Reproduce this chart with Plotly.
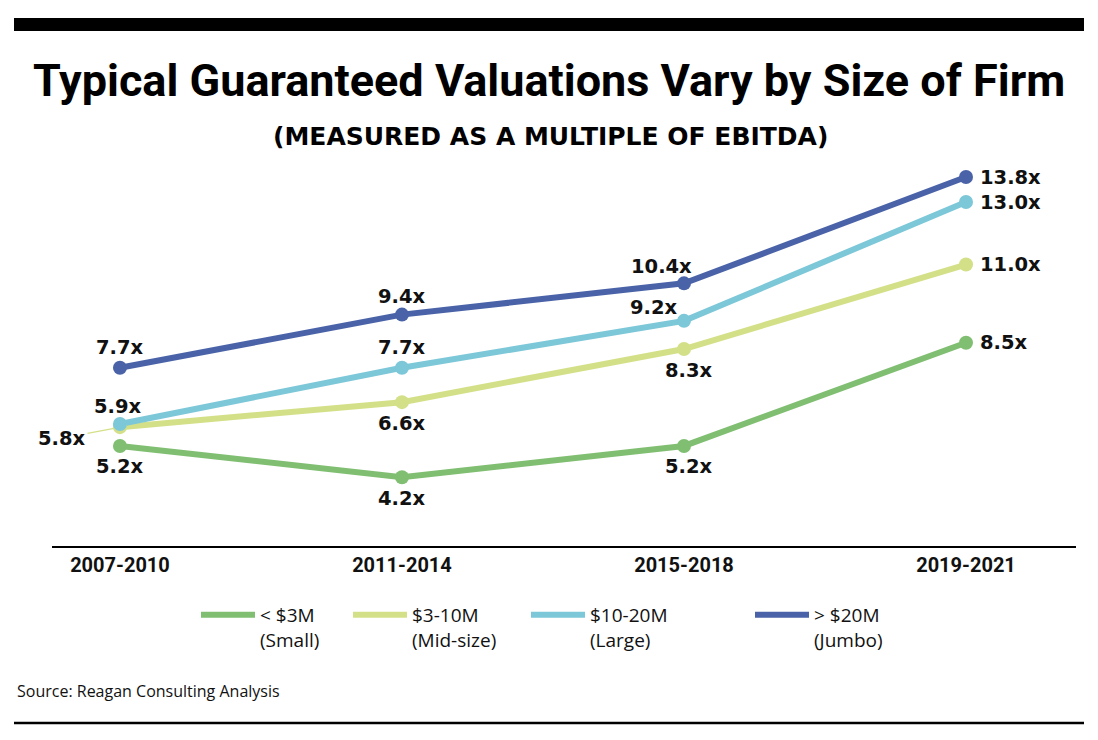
import plotly.graph_objects as go

# ---------------- data ----------------
periods = ["2007-2010", "2011-2014", "2015-2018", "2019-2021"]
small = [5.2, 4.2, 5.2, 8.5]
mid_size = [5.8, 6.6, 8.3, 11.0]
large = [5.9, 7.7, 9.2, 13.0]
jumbo = [7.7, 9.4, 10.4, 13.8]
series_names = ["< $3M<br>(Small)", "$3-10M<br>(Mid-size)", "$10-20M<br>(Large)", "> $20M<br>(Jumbo)"]

# ---------------- layout constants ----------------
OFF = 8  # page body margin in the browser
W, H = 1098 - OFF, 740 - OFF
ML, MR = 52 - OFF, 22
MT = 160 - OFF
MB = H - (546 - OFF)
PW = W - ML - MR
PH = H - MT - MB


def px(xs):
    """screen x -> paper x"""
    return (xs - OFF - ML) / PW


def py(ys):
    """screen y -> paper y"""
    return (H - MB - (ys - OFF)) / PH


colors = ["#80BF72", "#D4E088", "#7CC7D8", "#4A63A8"]
series = [small, mid_size, large, jumbo]

LABEL_FONT = dict(family="DejaVu Sans", size=19.5, color="#111111", weight="bold")

# label placement per series / point: (xshift, yshift, xanchor)
ABOVE = (0, 20, "center")
BELOW = (0, -21, "center")
RIGHT = (12, 0, "left")
placements = [
    [BELOW, BELOW, (5, -21, "center"), RIGHT],
    [None, BELOW, (5, -21, "center"), RIGHT],
    [(-2, 18, "center"), ABOVE, (-30, 13, "center"), RIGHT],
    [ABOVE, (0, 18, "center"), (-23, 17, "center"), RIGHT],
]

fig = go.Figure()
legend_ids = ["legend", "legend2", "legend3", "legend4"]
for i, (vals, name, col) in enumerate(zip(series, series_names, colors)):
    fig.add_trace(go.Scatter(
        x=periods, y=vals, name=name, mode="lines",
        line=dict(color=col, width=6),
        legend=legend_ids[i], hoverinfo="skip",
    ))
for i, (vals, col) in enumerate(zip(series, colors)):
    fig.add_trace(go.Scatter(
        x=periods, y=vals, mode="markers", showlegend=False,
        marker=dict(color=col, size=14), hoverinfo="skip",
    ))

annotations = []
for i, vals in enumerate(series):
    for j, v in enumerate(vals):
        pl = placements[i][j]
        if pl is None:
            continue
        xs, ys, xa = pl
        annotations.append(dict(
            x=periods[j], y=v, xref="x", yref="y", text=f"{v:.1f}x",
            showarrow=False, xshift=xs, yshift=ys, xanchor=xa, yanchor="middle",
            font=LABEL_FONT,
        ))

# 5.8x label with leader line
annotations.append(dict(
    x=periods[0], y=mid_size[0], xref="x", yref="y", text=f"{mid_size[0]:.1f}x",
    showarrow=True, arrowhead=0, arrowwidth=1.2, arrowcolor=colors[1],
    ax=-58, ay=11, standoff=6, font=LABEL_FONT,
))

# subtitle
annotations.append(dict(
    x=px(550), xref="paper", y=py(136), yref="paper", xanchor="center", yanchor="middle",
    text="<b>(MEASURED AS A MULTIPLE OF EBITDA)</b>", showarrow=False,
    font=dict(family="DejaVu Sans", size=25, color="#000000"),
))

# source
annotations.append(dict(
    x=px(15), xref="paper", y=py(691), yref="paper", xanchor="left", yanchor="middle",
    text="Source: Reagan Consulting Analysis", showarrow=False,
    font=dict(family="Open Sans", size=16, color="#111111"),
))

shapes = [
    dict(type="rect", xref="paper", yref="paper", x0=px(14), x1=px(1084), y0=py(31), y1=py(18),
         fillcolor="#000000", line=dict(width=0)),
    dict(type="line", xref="paper", yref="paper", x0=px(14), x1=px(1084), y0=py(723), y1=py(723),
         line=dict(color="#000000", width=2.5)),
]

legend_common = dict(
    orientation="v", xanchor="left", yanchor="top", yref="paper", xref="paper",
    font=dict(family="Open Sans", size=19, color="#111111"),
    bgcolor="rgba(0,0,0,0)", borderwidth=0, itemwidth=54, valign="top",
    itemclick=False, itemdoubleclick=False, tracegroupgap=0,
)
legend_x_px = [196, 348, 526, 750]
legends = {}
for lid, xs in zip(legend_ids, legend_x_px):
    legends[lid] = dict(legend_common, x=px(xs), y=py(596))

fig.update_layout(
    width=W, height=H,
    margin=dict(l=ML, r=MR, t=MT, b=MB),
    paper_bgcolor="#FFFFFF", plot_bgcolor="#FFFFFF",
    title=dict(
        text="<b>Typical Guaranteed Valuations Vary by Size of Firm</b>",
        x=(549 - OFF) / W, xanchor="center", xref="container",
        y=1 - (80 - OFF) / H, yanchor="middle", yref="container",
        font=dict(family="Roboto", size=45, color="#000000"),
    ),
    xaxis=dict(
        type="category", range=[-0.241, 3.39], showgrid=False, zeroline=False,
        showline=True, linecolor="#000000", linewidth=2, ticks="",
        tickfont=dict(family="Roboto", size=20, color="#111111", weight="bold"),
        fixedrange=True,
    ),
    yaxis=dict(range=[2.0, 14.344], visible=False, showgrid=False, zeroline=False, fixedrange=True),
    annotations=annotations,
    shapes=shapes,
    showlegend=True,
    **legends,
)

fig.write_html("out.html", config={"displayModeBar": False})
